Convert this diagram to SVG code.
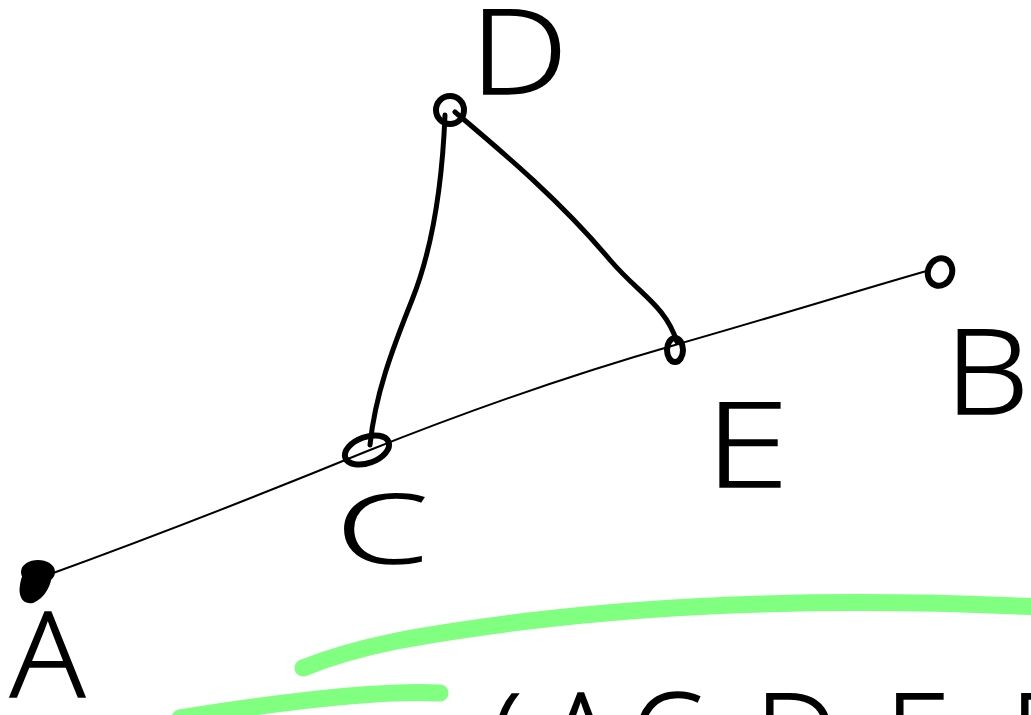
<svg xmlns="http://www.w3.org/2000/svg" width="1031" height="715" viewBox="0 0 1031 715">
<style>
.lbl{font-family:"Open Sans","Liberation Sans",sans-serif;font-weight:300;fill:#000;stroke:#000;stroke-width:1.5}
.pt{fill:none;stroke:#000;stroke-width:6;stroke-linecap:round}
.thin{fill:none;stroke:#000;stroke-width:2;stroke-linecap:round}
.thick{fill:none;stroke:#000;stroke-width:5;stroke-linecap:round;stroke-linejoin:round}
.hl{fill:none;stroke:#80FF80;stroke-width:17;stroke-linecap:round}
</style>
<rect width="1031" height="715" fill="#fff"/>
<g id="highlights">
<path class="hl" d="M303,668 C360,645 420,635 520,622 C680,602 850,598 1040,607"/>
<path class="hl" d="M180,718 C280,702 380,690 440,693"/>
</g>
<g id="connectors">
<path class="thin" d="M45,576 C150,538 260,495 365,452 C470,410 570,375 675,345 C780,315 860,290 930,270"/>
<path class="thick" d="M445,115 C442,190 432,250 412,300 C392,350 375,395 370,445"/>
<path class="thick" d="M455,112 C500,150 560,200 610,260 C640,295 665,305 677,342"/>
</g>
<g id="node-A">
<path d="M25,570 C35,560 52,562 52,572 C52,585 45,598 33,603 C22,605 18,595 20,585 C21,578 23,574 25,570 Z" fill="#000"/>
<ellipse cx="38" cy="572" rx="14" ry="9" class="pt"/>
<text class="lbl" x="10" y="697" font-size="118" textLength="75" lengthAdjust="spacingAndGlyphs">A</text>
</g>
<g id="node-C">
<ellipse cx="367" cy="450" rx="23" ry="13" transform="rotate(-20 367 450)" class="pt"/>
<text class="lbl" x="336" y="563" font-size="95" textLength="92" lengthAdjust="spacingAndGlyphs">C</text>
</g>
<g id="node-D">
<circle cx="450" cy="110" r="14" class="pt"/>
<text class="lbl" x="470" y="94" font-size="118" textLength="98" lengthAdjust="spacingAndGlyphs">D</text>
</g>
<g id="node-E">
<ellipse cx="675" cy="350" rx="8" ry="12" class="pt"/>
<text class="lbl" x="705" y="487" font-size="118" textLength="84" lengthAdjust="spacingAndGlyphs">E</text>
</g>
<g id="node-B">
<ellipse cx="940" cy="272" rx="12" ry="14" transform="rotate(20 940 272)" class="pt" stroke-width="7"/>
<text class="lbl" x="945" y="414" font-size="118" textLength="84" lengthAdjust="spacingAndGlyphs">B</text>
</g>
<g id="bottom-text">
<text class="lbl" font-size="118" y="778" x="490 545 630 755 885 1010">(ACDEB</text>
</g>
</svg>
